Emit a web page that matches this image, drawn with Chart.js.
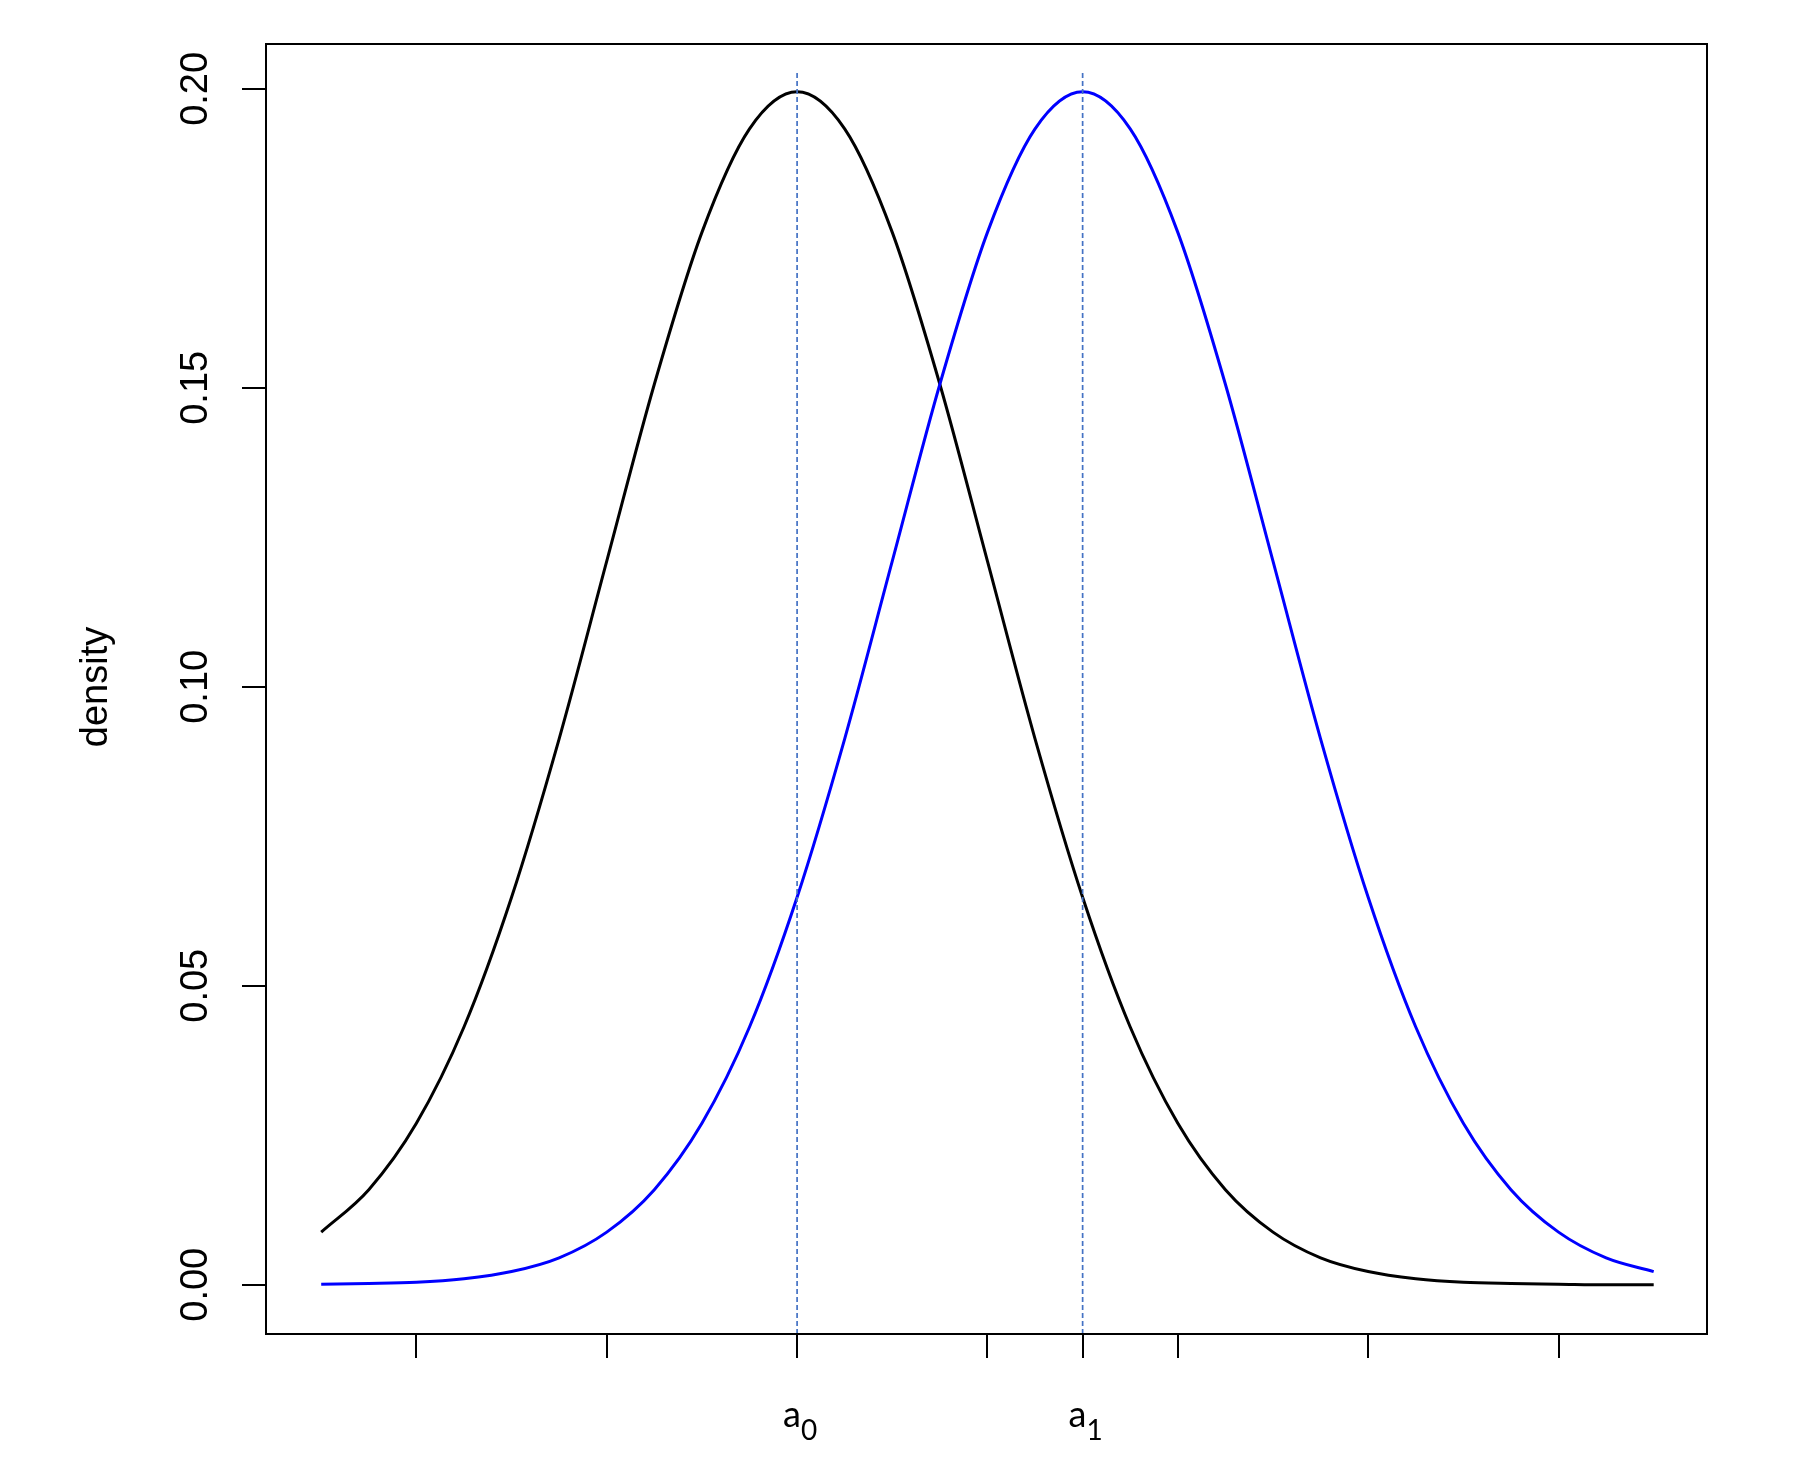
<!DOCTYPE html>
<html>
<head>
<meta charset="utf-8">
<title>density</title>
<script src="https://cdn.jsdelivr.net/npm/chart.js@4.4.1/dist/chart.umd.min.js"></script>
<style>
  html, body { margin: 0; padding: 0; background: #fff; }
  canvas { display: block; }
</style>
</head>
<body>
<canvas id="chart" width="1804" height="1484"></canvas>
<script>
const xs = [-5, -4.5, -4, -3.5, -3, -2.5, -2, -1.5, -1, -0.5, 0, 0.5, 1, 1.5, 2, 2.5,
            3, 3.5, 4, 4.5, 5, 5.5, 6, 6.5, 7, 7.5, 8, 8.5, 9];

// black curve (centred on a0)
const densityA0 = [0.0088, 0.0159, 0.0270, 0.0431, 0.0648, 0.0913, 0.1210, 0.1506, 0.1760, 0.1933,
                   0.1995, 0.1933, 0.1760, 0.1506, 0.1210, 0.0913, 0.0648, 0.0431, 0.0270, 0.0159,
                   0.0088, 0.0045, 0.0022, 0.0010, 0.0004, 0.0002, 0.0001, 0.0000, 0.0000];

// blue curve (centred on a1)
const densityA1 = [0.0001, 0.0002, 0.0004, 0.0010, 0.0022, 0.0045, 0.0088, 0.0159, 0.0270, 0.0431,
                   0.0648, 0.0913, 0.1210, 0.1506, 0.1760, 0.1933, 0.1995, 0.1933, 0.1760, 0.1506,
                   0.1210, 0.0913, 0.0648, 0.0431, 0.0270, 0.0159, 0.0088, 0.0045, 0.0022];

// axes
const xTicks = [-4, -2, 0, 2, 3, 4, 6, 8];
const xTickLabels = { 0: '0', 3: '1' };   // subscript of "a"
const yTicks = [0, 0.05, 0.10, 0.15, 0.20];
const yTickLabels = ['0.00', '0.05', '0.10', '0.15', '0.20'];
const xRange = [-5.58, 9.56];
const yRange = [-0.00824, 0.2075];

// dashed markers
const markerX = [0, 3];
const markerTop = 0.203;

const pairs = (ys) => xs.map((x, i) => ({ x: x, y: ys[i] }));

const markerSets = markerX.map(m => ({
    data: [{ x: m, y: yRange[0] }, { x: m, y: markerTop }],
    borderColor: '#4472c4',
    borderWidth: 1.7,
    borderDash: [5, 3],
    pointRadius: 0,
    tension: 0
}));

// box + rotated y labels + a0/a1 labels
const decorations = {
    id: 'decorations',
    afterDraw(chart) {
        const ctx = chart.ctx;
        const area = chart.chartArea;
        const xs_ = chart.scales.x;
        const ys_ = chart.scales.y;
        ctx.save();

        ctx.strokeStyle = '#000';
        ctx.lineWidth = 2;
        ctx.strokeRect(area.left, area.top, area.right - area.left, area.bottom - area.top);

        ctx.fillStyle = '#000';
        ctx.font = '38px "Liberation Sans", Arial, sans-serif';
        ctx.textAlign = 'center';
        ctx.textBaseline = 'alphabetic';
        yTicks.forEach((v, i) => {
            const py = ys_.getPixelForValue(v);
            ctx.save();
            ctx.translate(207, py);
            ctx.rotate(-Math.PI / 2);
            ctx.fillText(yTickLabels[i], 0, 0);
            ctx.restore();
        });

        ctx.save();
        ctx.translate(107, 687);
        ctx.rotate(-Math.PI / 2);
        ctx.fillText('density', 0, 0);
        ctx.restore();

        Object.keys(xTickLabels).forEach(k => {
            const px = xs_.getPixelForValue(Number(k));
            const mainFont = '36px Lato, "Open Sans", sans-serif';
            const subFont = '28px Lato, "Open Sans", sans-serif';
            ctx.font = mainFont;
            const wa = ctx.measureText('a').width;
            ctx.font = subFont;
            const ws = ctx.measureText(xTickLabels[k]).width;
            const left = px + 3 - (wa + ws) / 2;
            ctx.textAlign = 'left';
            ctx.font = mainFont;
            ctx.fillText('a', left, 1427);
            ctx.font = subFont;
            ctx.fillText(xTickLabels[k], left + wa, 1440);
        });

        ctx.restore();
    }
};

new Chart(document.getElementById('chart'), {
    type: 'line',
    data: {
        datasets: [
            ...markerSets,
            { data: pairs(densityA1), borderColor: '#0000ff', borderWidth: 3, pointRadius: 0, cubicInterpolationMode: 'monotone' },
            { data: pairs(densityA0), borderColor: '#000000', borderWidth: 3, pointRadius: 0, cubicInterpolationMode: 'monotone' }
        ]
    },
    options: {
        responsive: false,
        devicePixelRatio: 1,
        animation: false,
        layout: { padding: { left: 0, top: 44, right: 97, bottom: 0 } },
        plugins: { legend: { display: false }, tooltip: { enabled: false } },
        scales: {
            x: {
                type: 'linear',
                min: xRange[0],
                max: xRange[1],
                afterBuildTicks: (scale) => { scale.ticks = xTicks.map(v => ({ value: v })); },
                afterFit: (scale) => { scale.height = 150; },
                ticks: { display: false },
                border: { display: false },
                grid: { drawOnChartArea: false, drawTicks: true, tickLength: 24, color: '#000', lineWidth: 2 }
            },
            y: {
                type: 'linear',
                min: yRange[0],
                max: yRange[1],
                afterBuildTicks: (scale) => { scale.ticks = yTicks.map(v => ({ value: v })); },
                afterFit: (scale) => { scale.width = 266; },
                ticks: { display: false },
                border: { display: false },
                grid: { drawOnChartArea: false, drawTicks: true, tickLength: 24, color: '#000', lineWidth: 2 }
            }
        }
    },
    plugins: [decorations]
});
</script>
</body>
</html>
